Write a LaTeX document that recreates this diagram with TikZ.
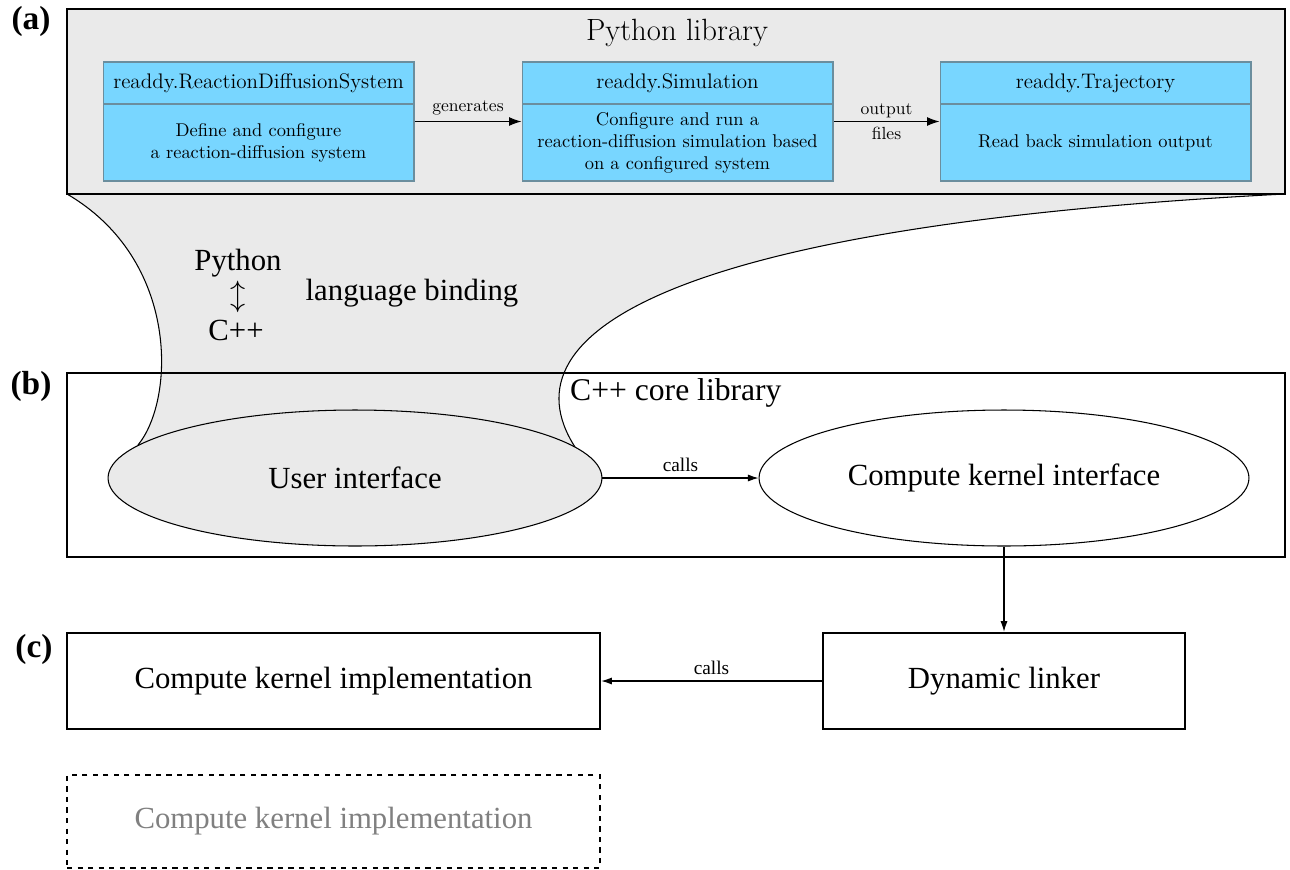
\documentclass[tikz,border=0pt]{standalone}
\usepackage{fontspec}
\newfontfamily\timesfont{Liberation Serif}
\usetikzlibrary{positioning,arrows.meta,shapes.geometric}

\definecolor{panelgray}{HTML}{EAEAEA}
\definecolor{clsfill}{HTML}{78D6FF}
\definecolor{clsedge}{HTML}{6B8E9E}

\tikzset{
	panel/.style={draw, line width=1.5pt, inner sep=0pt},
	clsbox/.style={draw=clsedge, fill=clsfill, line width=0.6pt, inner sep=0pt, minimum width=6.22cm, minimum height=2.38cm},
	clshead/.style={draw=clsedge, line width=0.6pt, inner sep=0pt, minimum width=6.22cm, minimum height=0.84cm, font=\fontsize{12}{13}\selectfont},
	clstext/.style={align=center, font=\fontsize{10.5}{12.5}\selectfont},
	toplabel/.style={font=\fontsize{10}{14}\selectfont, align=center},
	biglabel/.style={font=\timesfont\fontsize{17.5}{20}\selectfont},
	smalllabel/.style={font=\timesfont\fontsize{11}{13}\selectfont},
	panelmark/.style={font=\timesfont\bfseries\fontsize{19}{21}\selectfont},
	flow/.style={-{Latex[length=7pt,width=5pt]}, line width=0.6pt},
	callarrow/.style={-{Latex[length=6pt,width=4pt]}, line width=0.6pt},
	blob/.style={ellipse, draw, line width=0.6pt, inner sep=0pt, biglabel}
}

\begin{document}
\begin{tikzpicture}[x=0.02cm, y=-0.02cm]
	\useasboundingbox (0,0) rectangle (1290,869);

	% binding funnel between the two libraries
	\fill[panelgray] (67,194) .. controls (180,260) and (175,400) .. (138,445) -- (575,447) .. controls (500,330) and (680,225) .. (1285,194) -- cycle;
	\draw[line width=0.6pt] (67,194) .. controls (180,260) and (175,400) .. (138,445);
	\draw[line width=0.6pt] (575,447) .. controls (500,330) and (680,225) .. (1285,194);

	% (a) python library
	\node[panel, fill=panelgray, minimum width=24.36cm, minimum height=3.7cm] (pylib) at (676,101.5) {};
	\node[font=\fontsize{17.5}{20}\selectfont] (pylibtitle) at (677,33) {Python library};

	\node[clsbox] (rds) at (258.5,121.5) {};
	\node[clshead, anchor=north] (rdshead) at (rds.north) {readdy.ReactionDiffusionSystem};
	\node[clstext] (rdstext) at (258.5,143) {Define and configure\\a reaction-diffusion system};

	\node[clsbox] (sim) at (677.5,121.5) {};
	\node[clshead, anchor=north] (simhead) at (sim.north) {readdy.Simulation};
	\node[clstext] (simtext) at (677.5,143) {Configure and run a\\reaction-diffusion simulation based\\on a configured system};

	\node[clsbox] (traj) at (1095.5,121.5) {};
	\node[clshead, anchor=north] (trajhead) at (traj.north) {readdy.Trajectory};
	\node[clstext] (trajtext) at (1095.5,143) {Read back simulation output};

	\draw[flow] (rds) -- node[above, toplabel] {generates} (sim);
	\draw[flow] (sim) -- node[toplabel] {output\\files} (traj);

	% language binding
	\node[biglabel] (python) at (238,263) {Python};
	\node[biglabel] (updown) at (238,297) {$\updownarrow$};
	\node[biglabel] (cpp) at (236,330) {C++};
	\node[biglabel] (binding) at (412,293) {language binding};

	% (b) c++ core
	\node[panel, minimum width=24.36cm, minimum height=3.68cm] (cppcore) at (676,465) {};
	\node[biglabel, anchor=west, font=\timesfont\fontsize{18}{20}\selectfont] (cpptitle) at (564,393) {C++ core library};
	\node[blob, fill=panelgray, minimum width=9.88cm, minimum height=2.72cm] (ui) at (355,478) {User interface};
	\node[blob, fill=white, minimum width=9.8cm, minimum height=2.72cm] (cki) at (1004,478) {Compute kernel interface};
	\draw[callarrow] (ui) -- node[above, smalllabel] {calls} (cki);

	% (c) kernels
	\node[panel, biglabel, minimum width=7.24cm, minimum height=1.92cm] (linker) at (1004,681) {Dynamic linker};
	\node[panel, biglabel, minimum width=10.66cm, minimum height=1.92cm] (impl) at (333.5,681) {Compute kernel implementation};
	\node[draw, dashed, line width=0.8pt, text=gray, biglabel, inner sep=0pt, minimum width=10.66cm, minimum height=1.86cm] (implalt) at (333.5,821.5) {Compute kernel implementation};
	\draw[callarrow] (cki) -- (linker);
	\draw[callarrow] (linker) -- node[above, smalllabel] {calls} (impl);

	% panel marks
	\node[panelmark] (marka) at (31,21) {(a)};
	\node[panelmark] (markb) at (31,386) {(b)};
	\node[panelmark] (markc) at (34,649) {(c)};
\end{tikzpicture}
\end{document}
